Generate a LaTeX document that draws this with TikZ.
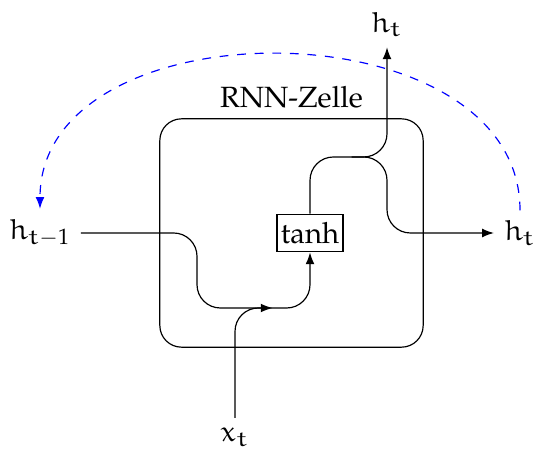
\documentclass[tikz,border=0pt]{standalone}
\usepackage[T1]{fontenc}
\usepackage{mathpazo}
\DeclareMathAlphabet{\mathe}{U}{eur}{m}{n}
\usetikzlibrary{positioning, arrows.meta}

\begin{document}
\begin{tikzpicture}[
    cellbox/.style={draw, rounded corners=0.26cm, minimum width=3.16cm, minimum height=2.74cm},
    op/.style={draw, inner xsep=1.3pt, inner ysep=2.8pt},
    wire/.style={rounded corners=0.28cm},
    >={Latex[length=4pt, width=3pt]},
]
    \useasboundingbox (-3.72,-2.62) rectangle (2.712,2.796);

    \node[cellbox] (cell) at (-0.222,0) {};
    \node[above=0pt of cell] (celllabel) {RNN-Zelle};
    \node[op] (tanh) at (0,0) {tanh};

    \node (hprev)  at (-3.24,0)    {$\mathe{h}_{\mathe{t}-1}$};
    \node (xt)     at (-0.9,-2.45) {$\mathe{x}_{\mathe{t}}$};
    \node (htop)   at (0.924,2.5)  {$\mathe{h}_{\mathe{t}}$};
    \node (hright) at (2.52,0)     {$\mathe{h}_{\mathe{t}}$};

    \coordinate (merge) at (-0.45,-0.9);
    \coordinate (split) at (0.5,0.912);

    % Eingang und vorheriger Zustand
    \draw[wire, ->] (hprev) -- (-1.356,0) -- (-1.356,-0.9) -- (0,-0.9) -- (tanh);
    \draw[wire, ->] (xt) -- (xt |- merge) -- (merge);

    % Ausgang
    \draw[wire, ->] (tanh) -- (0,0.912) -- (htop |- split) -- (htop);
    \draw[wire, ->] (split) -- (htop |- split) -- (0.924,0) -- (hright);

    % Rueckkopplung
    \draw[blue, dashed, ->] (hright.north) to[out=90, in=90, looseness=1.1] (hprev.north);

\end{tikzpicture}
\end{document}
